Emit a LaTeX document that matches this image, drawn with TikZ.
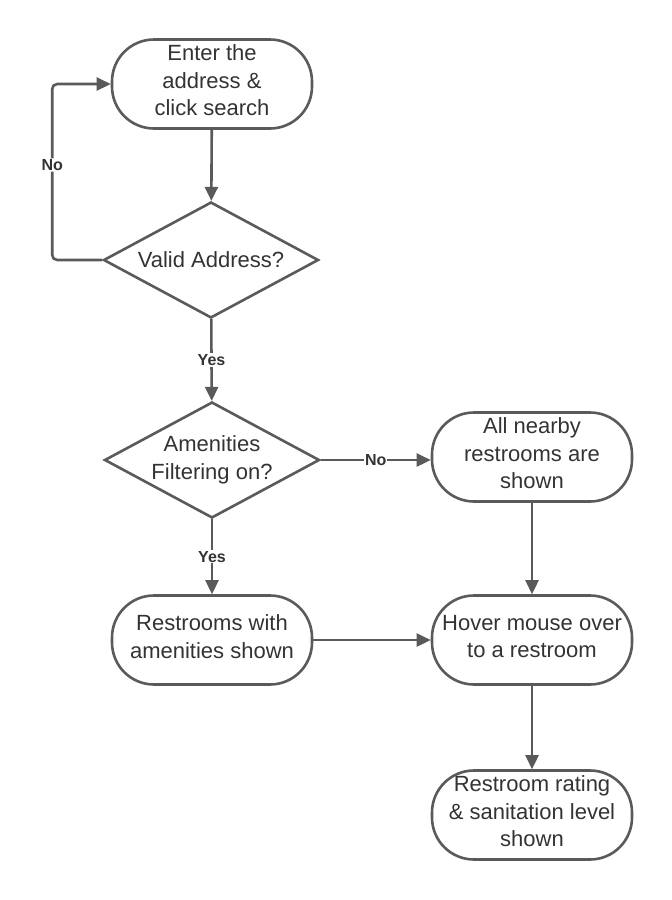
\documentclass[tikz,border=0pt]{standalone}
\usepackage{fontspec}
\setmainfont{Liberation Sans}
\usepackage{xcolor}
\usetikzlibrary{shapes.geometric,arrows.meta}
\definecolor{linegray}{HTML}{5A5A5A}
\definecolor{textgray}{HTML}{333333}
\tikzstyle{stepbox} = [
    draw=linegray,
    line width=2.6pt,
    rectangle,
    rounded corners=42pt,
    minimum width=200pt,
    minimum height=89pt,
    inner xsep=2pt,
    inner ysep=0pt,
    align=center,
    text=textgray,
    text depth=7pt,
    font=\fontsize{22}{27.5}\selectfont
    ]
\tikzstyle{decision} = [
    draw=linegray,
    line width=2.6pt,
    diamond,
    aspect=1.86,
    inner sep=0pt,
    minimum width=215pt,
    minimum height=116pt,
    align=center,
    text=textgray,
    font=\fontsize{22}{27.5}\selectfont
    ]
\tikzstyle{arrow} = [
    draw=linegray,
    line width=2.6pt,
    -{Triangle[length=14pt,width=13pt]}
    ]
\tikzstyle{answer} = [
    fill=white,
    inner sep=1pt,
    text=textgray,
    font=\fontsize{16}{18}\selectfont\bfseries
    ]

\begin{document}
\begin{tikzpicture}[x=1pt,y=-1pt]
\useasboundingbox (0,0) rectangle (672,900);

% left column
\node[stepbox] (start) at (212,84) {Enter the\\address \&\\click search};
\node[decision] (valid) at (211,260) {Valid Address?};
\node[decision] (amenities) at (212,460) {Amenities\\Filtering on?};
\node[stepbox] (withamen) at (212,640) {Restrooms with\\amenities shown};

% right column
\node[stepbox] (allshown) at (532,457) {All nearby\\restrooms are\\shown};
\node[stepbox] (hover) at (532,640) {Hover mouse over\\to a restroom};
\node[stepbox] (rating) at (532,815) {Restroom rating\\\& sanitation level\\shown};

% connectors
\draw[arrow] (start) -- (valid);
\draw[arrow, rounded corners=5pt] (valid.west) -- ++(-50,0)
    |- node[answer, pos=0.27] {No} (start.west);
\draw[arrow] (valid) -- node[answer] {Yes} (amenities);
\draw[arrow] (amenities.east) -- node[answer] {No} (allshown.west |- amenities.east);
\draw[arrow] (amenities) -- node[answer] {Yes} (withamen);
\draw[arrow] (allshown) -- (hover);
\draw[arrow] (withamen) -- (hover);
\draw[arrow] (hover) -- (rating);
\end{tikzpicture}
\end{document}
